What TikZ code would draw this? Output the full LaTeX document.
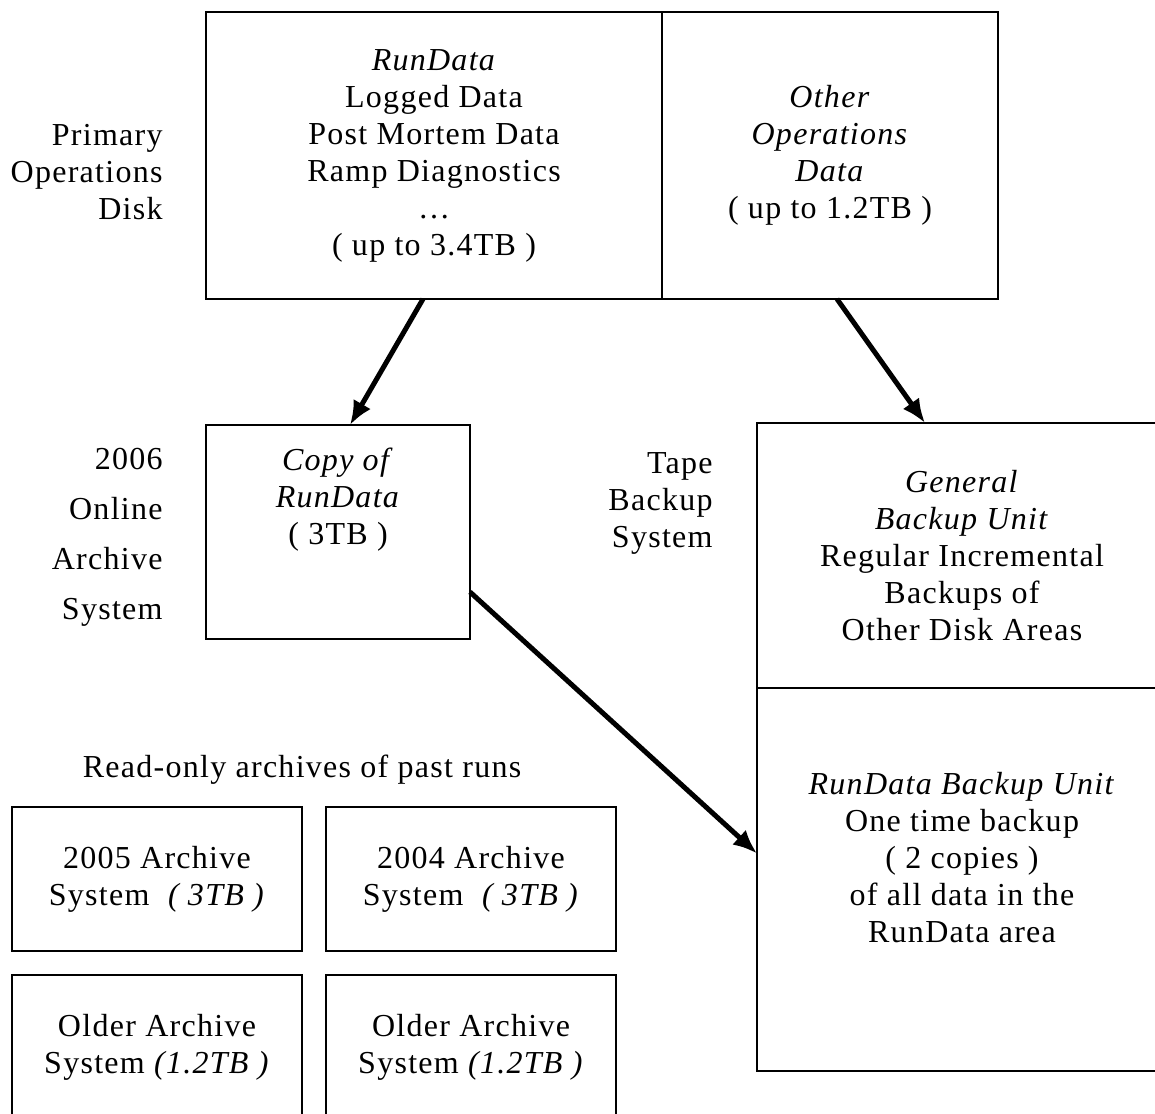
\documentclass[tikz,border=0pt]{standalone}
\usepackage{fontspec}
\setmainfont{Liberation Serif}[LetterSpace=4]
\usetikzlibrary{arrows.meta,positioning,calc}

\begin{document}
\begin{tikzpicture}[x=0.5pt, y=-0.5pt,
  font=\fontsize{16pt}{18.5pt}\selectfont,
  box/.style={draw, line width=1.2pt, outer sep=0pt, inner sep=0pt, align=center},
  arch/.style={box, minimum width=145pt, minimum height=72pt},
  side/.style={align=right, anchor=east, inner sep=0pt},
  txt/.style={align=center, inner sep=0pt},
  arr/.style={-{Latex[length=12pt, width=10pt]}, line width=2.5pt},
  node distance=12pt and 12pt]
\useasboundingbox (0,0) rectangle (1155,1113);
\clip (0,0) rectangle (1155,1113);
% primary operations disk
\node[box, minimum width=228pt, minimum height=143.5pt] (rundata) at (434,155.5)
  {\textit{RunData}\\ Logged Data\\ Post Mortem Data\\ Ramp Diagnostics\\ \dots\\ ( up to 3.4TB )};
\node[box, minimum width=168pt, minimum height=143.5pt, right=0pt of rundata] (otherops)
  {\textit{Other}\\ \textit{Operations}\\ \textit{Data}\\ ( up to 1.2TB )};
\node[side] (primlbl) at (163,172) {Primary\\ Operations\\ Disk};
% online archive
\node[box, minimum width=132pt, minimum height=107pt] (copy) at (338,532) {};
\node[txt] (copytxt) at ([yshift=16pt]copy.center) {\textit{Copy of}\\ \textit{RunData}\\ ( 3TB )};
\node[side] (onlinelbl) at (163,537) {2006\\[6.5pt] Online\\[6.5pt] Archive\\[6.5pt] System};
% tape backup
\node[side] (tapelbl) at (713,503) {Tape\\ Backup\\ System};
\node[box, minimum width=205pt, minimum height=132.5pt] (general) at (962,555.5)
  {\textit{General}\\ \textit{Backup Unit}\\ Regular Incremental\\ Backups of\\ Other Disk Areas};
\node[box, minimum width=205pt, minimum height=191.5pt, below=0pt of general] (rdbox) {};
\node[txt] (rdtxt) at ([yshift=11pt]rdbox.center)
  {\textit{RunData Backup Unit}\\ One time backup\\ ( 2 copies )\\ of all data in the\\ RunData area};
% past runs
\node[txt] (pastlbl) at (302,770) {Read-only archives of past runs};
\node[arch] (arch05) at (157,879) {2005 Archive\\ System~ \textit{( 3TB )}};
\node[arch, right=12pt of arch05] (arch04) {2004 Archive\\ System~ \textit{( 3TB )}};
\node[arch, below=12pt of arch05] (older1) {Older Archive\\ System \textit{(1.2TB )}};
\node[arch, below=12pt of arch04] (older2) {Older Archive\\ System \textit{(1.2TB )}};
\draw[arr] ([xshift=-5.5pt]rundata.south) -- ([xshift=6pt]copy.north);
\draw[arr] ([xshift=3.5pt]otherops.south) -- ([xshift=-18.5pt]general.north);
\draw[arr] ([yshift=-30pt]copy.east) -- ([yshift=13pt]rdbox.west);
\end{tikzpicture}
\end{document}
